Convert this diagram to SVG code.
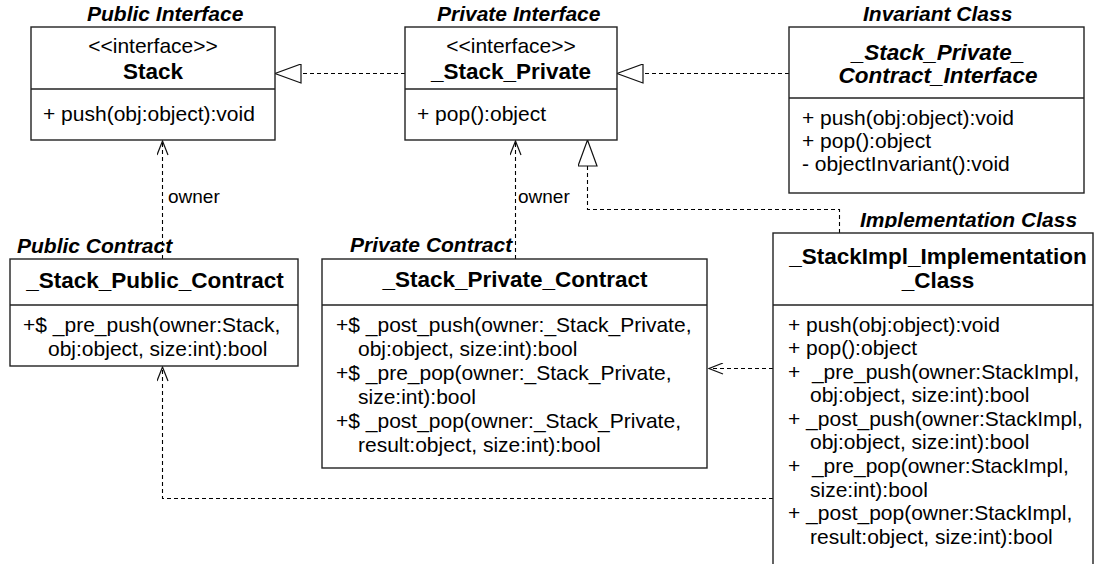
<svg xmlns="http://www.w3.org/2000/svg" width="1096" height="564" viewBox="0 0 1096 564">
  <style>
    .box{fill:#fff;stroke:#222;stroke-width:1.4}
    .sep{stroke:#222;stroke-width:1.4}
    text{font-family:"Liberation Sans",Arial,Helvetica,sans-serif;font-size:21px;fill:#000}
    .name{font-weight:bold;font-size:22.5px;text-anchor:middle}
    .mid{text-anchor:middle}
    .title{font-weight:bold;font-style:italic}
    .lbl{font-size:19px}
    .dash{fill:none;stroke:#000;stroke-width:1.1;stroke-dasharray:4 3}
  </style>
  <defs>
    <marker id="gen" viewBox="0 0 28 20" refX="27" refY="10" markerWidth="28" markerHeight="20" orient="auto" markerUnits="userSpaceOnUse">
      <path d="M1,0.5 L27,10 L1,19.5 Z" fill="#fff" stroke="#111" stroke-width="1.2"/>
    </marker>
    <marker id="open" viewBox="0 0 16 12" refX="15" refY="6" markerWidth="16" markerHeight="12" orient="auto" markerUnits="userSpaceOnUse">
      <path d="M1,0.5 L15,6 L1,11.5" fill="none" stroke="#111" stroke-width="1.2"/>
    </marker>
    <clipPath id="implTitleClip">
      <rect x="840" y="190" width="256" height="38"/>
    </clipPath>
  </defs>

  <!-- connectors -->
  <g id="connectors">
    <path class="dash" d="M405,73.5 H275" marker-end="url(#gen)"/>
    <path class="dash" d="M789,73.5 H617" marker-end="url(#gen)"/>
    <path class="dash" d="M839.5,233 V209.5 H587.5 V140" marker-end="url(#gen)"/>
    <path class="dash" d="M162.5,259 V141" marker-end="url(#open)"/>
    <path class="dash" d="M515.5,259 V141" marker-end="url(#open)"/>
    <path class="dash" d="M773,368.5 H709" marker-end="url(#open)"/>
    <path class="dash" d="M773,498.5 H162.5 V367" marker-end="url(#open)"/>
    <text class="lbl" x="168" y="203">owner</text>
    <text class="lbl" x="518" y="203">owner</text>
  </g>

  <!-- Stack interface -->
  <g id="stack">
    <text class="title" x="87" y="21">Public Interface</text>
    <rect class="box" x="31" y="27" width="244" height="113"/>
    <line class="sep" x1="31" y1="89" x2="275" y2="89"/>
    <text class="mid" x="153" y="53">&lt;&lt;interface&gt;&gt;</text>
    <text class="name" x="153" y="79">Stack</text>
    <text x="43" y="121">+ push(obj:object):void</text>
  </g>

  <!-- _Stack_Private interface -->
  <g id="stack-private">
    <text class="title" x="437" y="21">Private Interface</text>
    <rect class="box" x="405" y="27" width="212" height="113"/>
    <line class="sep" x1="405" y1="89" x2="617" y2="89"/>
    <text class="mid" x="511" y="53">&lt;&lt;interface&gt;&gt;</text>
    <text class="name" x="511" y="79">_Stack_Private</text>
    <text x="417" y="121">+ pop():object</text>
  </g>

  <!-- Invariant class -->
  <g id="invariant">
    <text class="title" x="863" y="21">Invariant Class</text>
    <rect class="box" x="789" y="27" width="295" height="166"/>
    <line class="sep" x1="789" y1="98" x2="1084" y2="98"/>
    <text class="name title" x="938" y="60">_Stack_Private_</text>
    <text class="name title" x="938" y="83">Contract_Interface</text>
    <text x="802" y="125">+ push(obj:object):void</text>
    <text x="802" y="148">+ pop():object</text>
    <text x="802" y="171">- objectInvariant():void</text>
  </g>

  <!-- Public contract -->
  <g id="public-contract">
    <rect class="box" x="10" y="259" width="288" height="107"/>
    <text class="title" x="17" y="253">Public Contract</text>
    <line class="sep" x1="10" y1="305" x2="298" y2="305"/>
    <text class="name" x="155" y="288">_Stack_Public_Contract</text>
    <text x="23" y="332">+$ _pre_push(owner:Stack,</text>
    <text x="48" y="356">obj:object, size:int):bool</text>
  </g>

  <!-- Private contract -->
  <g id="private-contract">
    <rect class="box" x="322" y="259" width="385" height="209"/>
    <text class="title" x="350" y="252">Private Contract</text>
    <line class="sep" x1="322" y1="305" x2="707" y2="305"/>
    <text class="name" x="515" y="287">_Stack_Private_Contract</text>
    <text x="336" y="332">+$ _post_push(owner:_Stack_Private,</text>
    <text x="358" y="356">obj:object, size:int):bool</text>
    <text x="336" y="380">+$ _pre_pop(owner:_Stack_Private,</text>
    <text x="358" y="404">size:int):bool</text>
    <text x="336" y="428">+$ _post_pop(owner:_Stack_Private,</text>
    <text x="358" y="452">result:object, size:int):bool</text>
  </g>

  <!-- Implementation class -->
  <g id="implementation">
    <text class="title" x="860" y="227" clip-path="url(#implTitleClip)">Implementation Class</text>
    <rect class="box" x="773" y="233" width="320" height="360"/>
    <line class="sep" x1="773" y1="305" x2="1093" y2="305"/>
    <text class="name" x="938" y="264">_StackImpl_Implementation</text>
    <text class="name" x="938" y="288">_Class</text>
    <text x="788" y="332">+ push(obj:object):void</text>
    <text x="788" y="355">+ pop():object</text>
    <text x="788" y="379" xml:space="preserve">+  _pre_push(owner:StackImpl,</text>
    <text x="810" y="402">obj:object, size:int):bool</text>
    <text x="788" y="426">+ _post_push(owner:StackImpl,</text>
    <text x="810" y="449">obj:object, size:int):bool</text>
    <text x="788" y="473" xml:space="preserve">+  _pre_pop(owner:StackImpl,</text>
    <text x="810" y="497">size:int):bool</text>
    <text x="788" y="520">+ _post_pop(owner:StackImpl,</text>
    <text x="810" y="544">result:object, size:int):bool</text>
  </g>
</svg>
